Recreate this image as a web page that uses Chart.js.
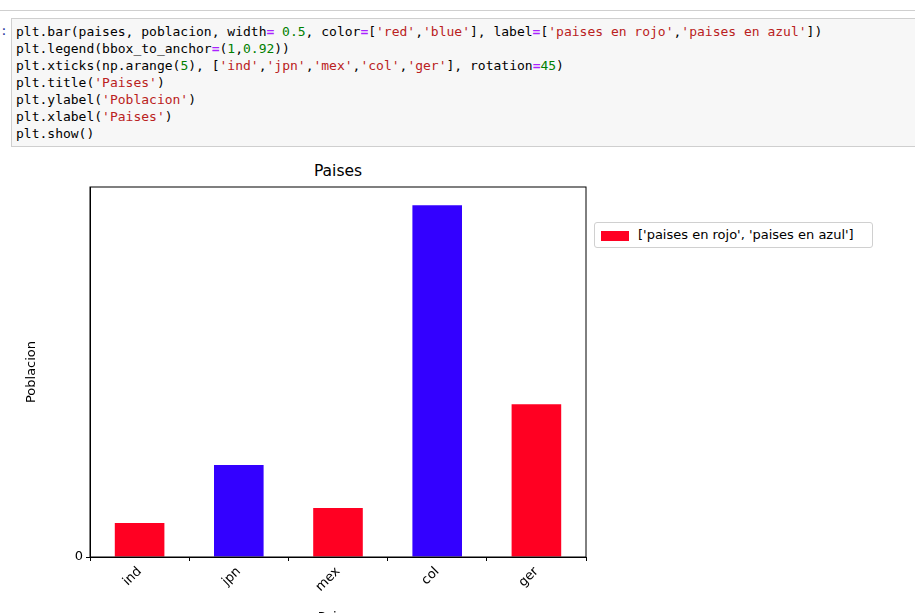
<!DOCTYPE html>
<html>
<head>
<meta charset="utf-8">
<script src="https://cdn.jsdelivr.net/npm/chart.js@4"></script>
<style>
  body { margin: 0; width: 915px; height: 613px; overflow: hidden; background: #fff; font-family: "DejaVu Sans", sans-serif; position: relative; }
  #topline { position: absolute; left: 0; top: 10px; width: 915px; border-top: 1px solid #cfcfcf; }
  #cell { position: absolute; left: 11px; top: 18px; width: 904px; height: 129px; background: #f7f7f7; border: 1px solid #cfcfcf; border-right: none; box-sizing: border-box; }
  #prompt { position: absolute; left: 0; top: 23px; font: 13px "DejaVu Sans Mono", monospace; color: #303f9f; }
  pre { margin: 0; position: absolute; left: 16px; top: 23px; font: 13px/17px "DejaVu Sans Mono", monospace; color: #000; }
  .o { color: #aa22ff; font-weight: bold; }
  .n { color: #008000; }
  .s { color: #ba2121; }
  #title { position: absolute; left: 90px; width: 496px; top: 162px; text-align: center; font-size: 15.5px; }
  #legend { position: absolute; left: 594px; top: 222px; width: 279px; height: 26px; border: 1px solid #d0d0d0; border-radius: 3px; box-sizing: border-box; font-size: 13px; }
  #legend span.box { position: absolute; left: 6px; top: 8px; width: 28px; height: 10px; background: #ff0022; }
  #legend span.txt { position: absolute; left: 43px; top: 4px; }
  #wrap { position: absolute; left: 20px; top: 155px; width: 570px; height: 470px; }
</style>
</head>
<body>
<div id="topline"></div>
<div id="cell"></div>
<div id="prompt">:</div>
<pre>plt.bar(paises, poblacion, width<span class="o">=</span> <span class="n">0.5</span>, color<span class="o">=</span>[<span class="s">'red'</span>,<span class="s">'blue'</span>], label<span class="o">=</span>[<span class="s">'paises en rojo'</span>,<span class="s">'paises en azul'</span>])
plt.legend(bbox_to_anchor<span class="o">=</span>(<span class="n">1</span>,<span class="n">0.92</span>))
plt.xticks(np.arange(<span class="n">5</span>), [<span class="s">'ind'</span>,<span class="s">'jpn'</span>,<span class="s">'mex'</span>,<span class="s">'col'</span>,<span class="s">'ger'</span>], rotation<span class="o">=</span><span class="n">45</span>)
plt.title(<span class="s">'Paises'</span>)
plt.ylabel(<span class="s">'Poblacion'</span>)
plt.xlabel(<span class="s">'Paises'</span>)
plt.show()</pre>
<div id="title">Paises</div>
<div id="legend"><span class="box"></span><span class="txt">['paises en rojo', 'paises en azul']</span></div>
<div id="wrap"><canvas id="chart"></canvas></div>
<script>
const paises = ['ind', 'jpn', 'mex', 'col', 'ger'];
const poblacion = [870, 2360, 1260, 9030, 3920];
const colores = ['#ff0022', '#3300ff', '#ff0022', '#3300ff', '#ff0022'];

// matplotlib style frame around the plot
const frame = {
  id: 'frame',
  afterDraw(chart) {
    const a = chart.chartArea;
    const ctx = chart.ctx;
    ctx.save();
    ctx.strokeStyle = '#000';
    ctx.lineWidth = 1;
    ctx.strokeRect(a.left, a.top, a.right - a.left, a.bottom - a.top);
    ctx.restore();
  }
};

function mainEvent() {
  Chart.defaults.font.family = '"DejaVu Sans", sans-serif';
  Chart.defaults.color = '#000';
  new Chart(document.getElementById('chart'), {
    type: 'bar',
    data: {
      labels: paises,
      datasets: [{
        label: "['paises en rojo', 'paises en azul']",
        data: poblacion,
        backgroundColor: colores,
        categoryPercentage: 1,
        barPercentage: 0.5
      }]
    },
    options: {
      responsive: true,
      maintainAspectRatio: false,
      animation: false,
      layout: { padding: { top: 32, right: 4 } },
      plugins: { legend: { display: false }, tooltip: { enabled: false } },
      scales: {
        x: {
          grid: { drawOnChartArea: false, tickLength: 4, color: '#000' },
          border: { color: '#000' },
          ticks: { minRotation: 45, maxRotation: 45, font: { size: 13 } },
          title: { display: true, text: 'Paises', font: { size: 13 }, padding: 0 },
          afterFit: (s) => { s.height = 68; }
        },
        y: {
          min: 0, max: 9500,
          grid: { drawOnChartArea: false, tickLength: 4, color: '#000' },
          border: { color: '#000' },
          ticks: { stepSize: 2000, font: { size: 13 }, callback: (v) => v % 2000 === 0 ? v : null },
          title: { display: true, text: 'Poblacion', font: { size: 13 } },
          afterFit: (s) => { s.width = 70; }
        }
      }
    },
    plugins: [frame]
  });
}

document.addEventListener('DOMContentLoaded', () => mainEvent());
</script>
</body>
</html>
